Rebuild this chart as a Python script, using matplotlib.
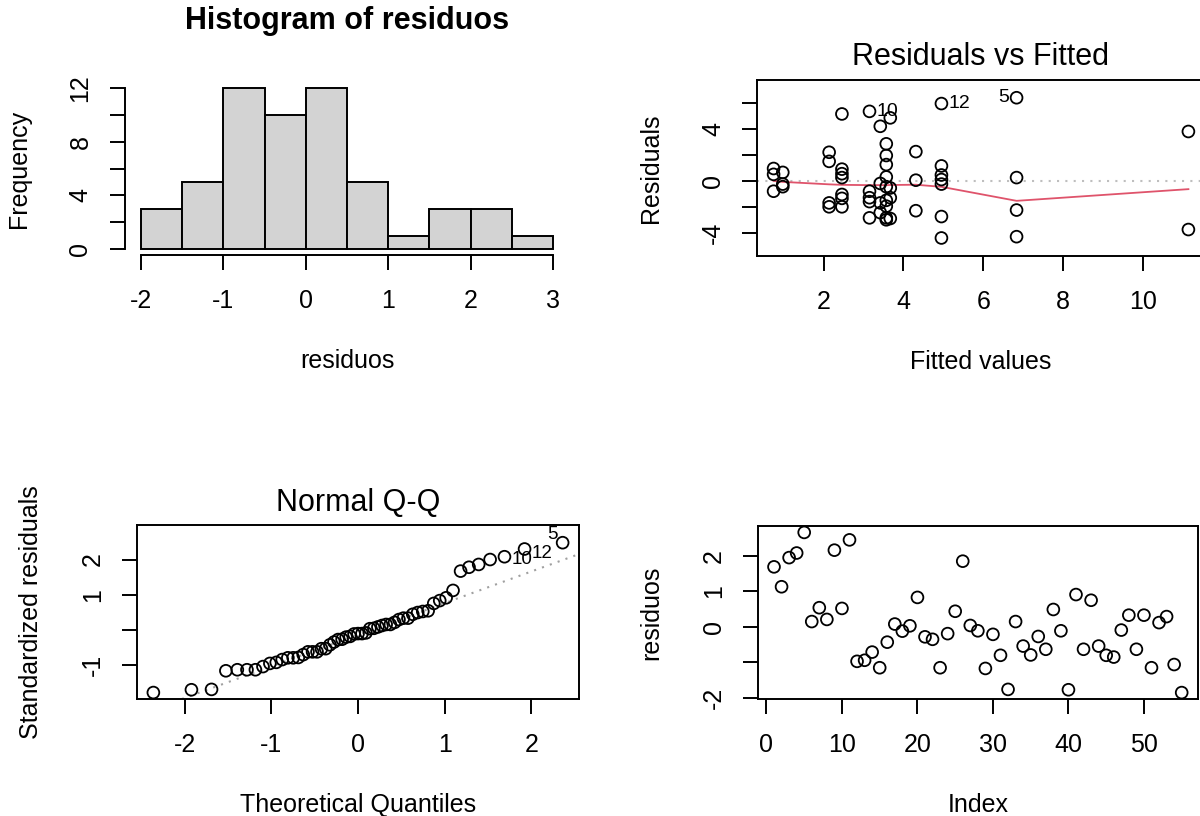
import numpy as np
import matplotlib
matplotlib.use("Agg")
import matplotlib.pyplot as plt
from statistics import NormalDist

# --- data ---
residuos = [1.69, 1.13, 1.95, 2.08, 2.66, 0.15, 0.54, 0.21, 2.16, 0.52,
            2.45, -0.97, -0.94, -0.71, -1.15, -0.43, 0.08, -0.12, 0.03, 0.83,
            -0.28, -0.35, -1.15, -0.19, 0.44, 1.85, 0.04, -0.11, -1.17, -0.21,
            -0.80, -1.76, 0.15, -0.54, -0.79, -0.27, -0.63, 0.49, -0.11, -1.77,
            0.91, -0.63, 0.75, -0.54, -0.80, -0.85, -0.09, 0.33, -0.63, 0.33,
            -1.15, 0.12, 0.29, -1.06, -1.85]
hist_breaks = [-2.0, -1.5, -1.0, -0.5, 0.0, 0.5, 1.0, 1.5, 2.0, 2.5, 3.0]

fitted = [0.75, 0.75, 0.75, 0.98, 0.98, 0.98,
          2.14, 2.14, 2.14, 2.14,
          2.46, 2.46, 2.46, 2.46, 2.46, 2.46, 2.46,
          3.15, 3.15, 3.15, 3.15, 3.15,
          3.42, 3.42, 3.42, 3.42,
          3.57, 3.57, 3.57, 3.57, 3.57, 3.57, 3.57, 3.57, 3.57,
          3.67, 3.67, 3.67, 3.67,
          4.31, 4.31, 4.31,
          4.95, 4.95, 4.95, 4.95, 4.95, 4.95, 4.95,
          6.83, 6.83, 6.83, 6.83,
          11.13, 11.13]
residuals = [0.95, 0.5, -0.8, 0.65, -0.45, -0.25,
             2.2, 1.5, -1.7, -2.0,
             5.15, 0.9, 0.55, 0.25, -1.05, -1.35, -2.0,
             5.35, -0.8, -1.3, -1.6, -2.85,
             4.2, -0.2, -1.7, -2.45,
             2.85, 1.95, 1.25, 0.3, -0.45, -1.5, -1.95, -2.85, -3.0,
             4.85, -0.55, -1.3, -2.9,
             2.25, 0.05, -2.3,
             5.95, 1.15, 0.45, 0.1, -0.25, -2.75, -4.4,
             6.4, 0.25, -2.25, -4.3,
             3.8, -3.75]
smooth_x = [0.75, 0.98, 2.14, 2.46, 3.15, 3.42, 3.57, 3.67, 4.31, 4.95, 6.83, 11.13]
smooth_y = [0.0, -0.08, -0.27, -0.31, -0.33, -0.33, -0.33, -0.32, -0.30, -0.46, -1.54, -0.64]

qq_std = [-1.79, -1.71, -1.70, -1.17, -1.14, -1.14, -1.14, -1.05, -0.96, -0.93,
          -0.85, -0.80, -0.80, -0.79, -0.71, -0.63, -0.63, -0.63, -0.54, -0.54,
          -0.43, -0.35, -0.28, -0.27, -0.21, -0.19, -0.12, -0.11, -0.11, -0.09,
          0.03, 0.04, 0.08, 0.12, 0.15, 0.15, 0.21, 0.29, 0.33, 0.33,
          0.44, 0.49, 0.52, 0.54, 0.75, 0.83, 0.91, 1.12, 1.67, 1.78,
          1.86, 2.00, 2.08, 2.30, 2.48]

# case numbers of the three largest residuals, biggest first
case_names = ["5", "12", "10"]

plt.rcParams['font.family'] = ['Liberation Sans', 'DejaVu Sans']
plt.rcParams['axes.unicode_minus'] = False
TICK_FS = 18
LAB_FS = 18
TITLE_FS = 22
LW = 1.4
PX = 0.72  # points per pixel at dpi 100

fig = plt.figure(figsize=(12, 8.16), dpi=100)
W, H = 1200, 816


def make_axes(left, right, top, bottom):
    return fig.add_axes([left / W, 1 - bottom / H, (right - left) / W, (bottom - top) / H])


def style(ax, xticks, yticks, ylabels_shown):
    ax.set_xticks(xticks)
    ax.set_yticks(yticks)
    ax.set_yticklabels([str(t) if t in ylabels_shown else "" for t in yticks])
    ax.tick_params(direction="out", length=15 * PX, width=LW, labelsize=TICK_FS)
    ax.tick_params(axis="x", pad=31 * PX)
    ax.tick_params(axis="y", pad=29 * PX)
    for lbl in ax.get_xticklabels():
        lbl.set_va("center")
    for lbl in ax.get_yticklabels():
        lbl.set_rotation(90)
        lbl.set_ha("center")
        lbl.set_va("center")
    for sp in ax.spines.values():
        sp.set_linewidth(LW)


def labels(ax, title, xlab, ylab, title_off, bold=False):
    if title:
        ax.annotate(title, xy=(0.5, 1), xycoords="axes fraction",
                    xytext=(0, title_off * PX), textcoords="offset points",
                    ha="center", va="center", fontsize=TITLE_FS,
                    fontweight="bold" if bold else "normal")
    ax.annotate(xlab, xy=(0.5, 0), xycoords="axes fraction",
                xytext=(0, -106 * PX), textcoords="offset points",
                ha="center", va="center", fontsize=LAB_FS)
    ax.annotate(ylab, xy=(0, 0.5), xycoords="axes fraction",
                xytext=(-106 * PX, 0), textcoords="offset points",
                ha="center", va="center", fontsize=LAB_FS, rotation=90)


def r_lim(values, extra_top=0.0):
    lo, hi = min(values), max(values)
    hi = hi + extra_top * (hi - lo)
    pad = 0.04 * (hi - lo)
    return lo - pad, hi + pad


def circles(ax, x, y, **kw):
    ax.scatter(x, y, s=72, facecolors="none", edgecolors="black", linewidths=1.3, **kw)


# --- 1. histogram ---
ax1 = make_axes(124.5, 569.5, 81.6, 255.4)
ax1.hist(residuos, bins=hist_breaks, color="#D3D3D3", edgecolor="black", linewidth=LW)
ax1.set_xlim(r_lim(hist_breaks))
ax1.set_ylim(-0.48, 12.48)
style(ax1, [-2, -1, 0, 1, 2, 3], [0, 2, 4, 6, 8, 10, 12], [0, 4, 8, 12])
ax1.spines["top"].set_visible(False)
ax1.spines["right"].set_visible(False)
ax1.spines["bottom"].set_bounds(-2, 3)
ax1.spines["left"].set_bounds(0, 12)
labels(ax1, "Histogram of residuos", "residuos", "Frequency", 61, bold=True)

# --- 2. residuals vs fitted ---
ax2 = make_axes(757, 1205, 80, 255.7)
ax2.axhline(0, color="#BEBEBE", lw=1.5, ls=(0, (1, 3)), zorder=1)
circles(ax2, fitted, residuals, zorder=3)
ax2.plot(smooth_x, smooth_y, color="#DF536B", lw=1.3, zorder=2)
rlo, rhi = min(residuals), max(residuals)
rpad = 0.08 * (rhi - rlo)
ax2.set_xlim(r_lim(fitted))
ax2.set_ylim(r_lim([rlo - rpad, rhi + rpad]))
style(ax2, [2, 4, 6, 8, 10], [-4, -2, 0, 2, 4, 6], [-4, 0, 4])
order = np.argsort(-np.abs(np.array(residuals)))[:3]
mid_fit = (min(fitted) + max(fitted)) / 2
for name, i in zip(case_names, order):
    right = fitted[i] < mid_fit
    ax2.annotate(name, xy=(fitted[i], residuals[i]),
                 xytext=((7 if right else -7) * PX, 0), textcoords="offset points",
                 ha="left" if right else "right", va="center", fontsize=14)
labels(ax2, "Residuals vs Fitted", "Fitted values", "Residuals", 23)

# --- 3. normal Q-Q ---
n = len(qq_std)
theo = [NormalDist().inv_cdf((k + 0.5) / n) for k in range(n)]
ax3 = make_axes(137, 579, 525, 699)
q1, q3 = np.percentile(qq_std, [25, 75])
z1, z3 = NormalDist().inv_cdf(0.25), NormalDist().inv_cdf(0.75)
slope = (q3 - q1) / (z3 - z1)
icpt = q1 - slope * z1
ax3.axline((0, icpt), slope=slope, color="#A0A0A0", lw=1.5, ls=(0, (1, 3)), zorder=1)
circles(ax3, theo, qq_std, zorder=3)
ax3.set_xlim(r_lim(theo))
ax3.set_ylim(r_lim(qq_std, extra_top=0.075))
style(ax3, [-2, -1, 0, 1, 2], [-1, 0, 1, 2], [-1, 1, 2])
# top three points: 5 to the left, 12 and 10 to the right
ax3.annotate(case_names[0], xy=(theo[-1], qq_std[-1]), xytext=(-5 * PX, 8 * PX),
             textcoords="offset points", ha="right", va="center", fontsize=13.5)
ax3.annotate(case_names[1], xy=(theo[-2], qq_std[-2]), xytext=(7 * PX, -4 * PX),
             textcoords="offset points", ha="left", va="center", fontsize=13.5)
ax3.annotate(case_names[2], xy=(theo[-3], qq_std[-3]), xytext=(7 * PX, -3 * PX),
             textcoords="offset points", ha="left", va="center", fontsize=13.5)
labels(ax3, "Normal Q-Q", "Theoretical Quantiles", "Standardized residuals", 22)

# --- 4. residuos by index ---
idx = np.arange(1, len(residuos) + 1)
ax4 = make_axes(757.7, 1198, 526, 699)
circles(ax4, idx, residuos)
ax4.set_xlim(r_lim(idx))
ax4.set_ylim(r_lim(residuos))
style(ax4, [0, 10, 20, 30, 40, 50], [-2, -1, 0, 1, 2], [-2, 0, 1, 2])
labels(ax4, None, "Index", "residuos", 0)

fig.savefig("out.png", dpi=100)
plt.close(fig)
